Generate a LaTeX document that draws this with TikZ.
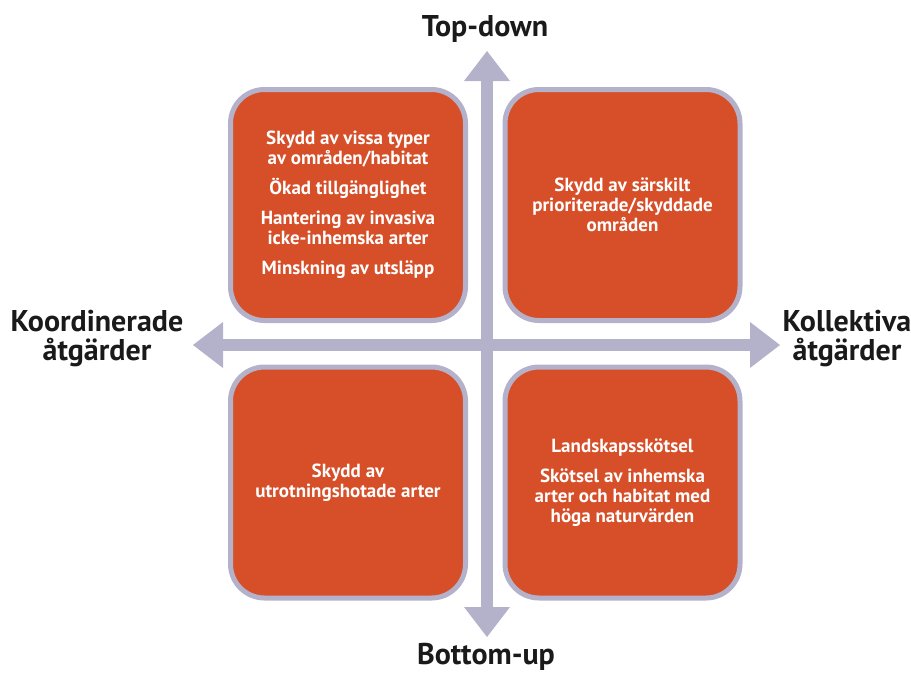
\documentclass[tikz,border=0pt]{standalone}
\usepackage{fontspec}
\setmainfont{PT Sans}
\usetikzlibrary{arrows.meta}
\definecolor{boxfill}{HTML}{D64F29}
\definecolor{lav}{HTML}{B4B1CB}
\definecolor{ink}{HTML}{1A1A1A}
\tikzset{
  quad/.style={draw=lav, fill=boxfill, line width=5pt, rounded corners=34pt,
    minimum width=235pt, minimum height=231pt, text=white, align=center,
    font=\bfseries\fontsize{19}{20}\selectfont},
  axis/.style={draw=lav, line width=12pt,
    {Triangle[width=46pt,length=30pt,line width=0pt]}-{Triangle[width=46pt,length=30pt,line width=0pt]}},
  axlabel/.style={text=ink, align=center, font=\bfseries\fontsize{30}{28.5}\selectfont, inner sep=0pt}
}
\begin{document}
\begin{tikzpicture}[x=1pt,y=-1pt]
\useasboundingbox (0,0) rectangle (911,673);
\coordinate (top) at (487,51);
\coordinate (bottom) at (487,637);
\coordinate (left) at (193,345);
\coordinate (right) at (780,345);
\draw[axis] (bottom) -- (top);
\draw[axis] (left) -- (right);
\node[quad] (tl) at (348,205) {Skydd av vissa typer\\ av områden/habitat\\[10pt] Ökad tillgänglighet\\[10pt] Hantering av invasiva\\ icke-inhemska arter\\[10pt] Minskning av utsläpp};
\node[quad] (tr) at (622.5,205) {Skydd av särskilt\\ prioriterade/skyddade\\ områden};
\node[quad] (bl) at (348,482.5) {Skydd av\\ utrotningshotade arter};
\node[quad] (br) at (622.5,482.5) {Landskapsskötsel\\[10pt] Skötsel av inhemska\\ arter och habitat med\\ höga naturvärden};
\node[axlabel, anchor=base] (ltop) at (485,36) {Top-down};
\node[axlabel, anchor=base] (lbottom) at (486,664) {Bottom-up};
\node[axlabel, anchor=base] (lleft) at (97,360) {Koordinerade\\ åtgärder};
\node[axlabel, anchor=base] (lright) at (847,360) {Kollektiva\\ åtgärder};
\end{tikzpicture}
\end{document}
